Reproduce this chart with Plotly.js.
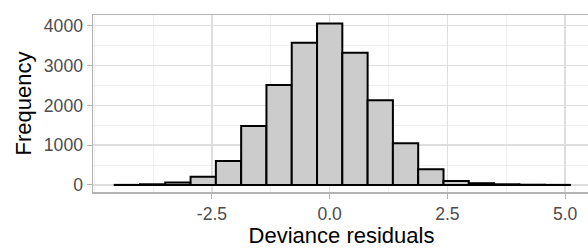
<!DOCTYPE html>
<html>
<head>
<meta charset="utf-8">
<script src="https://cdn.plot.ly/plotly-3.0.1.min.js"></script>
<style>
html, body { margin: 0; padding: 0; overflow: hidden; background: #fff; }
#chart { width: 590px; height: 248px; }
</style>
</head>
<body>
<div id="chart"></div>
<script>
// Histogram bin centres (deviance residuals) and counts
const binCenters = [-4.296, -3.759, -3.222, -2.685, -2.148, -1.611, -1.074, -0.537, 0.0,
                    0.537, 1.074, 1.611, 2.148, 2.685, 3.222, 3.759, 4.296, 4.833];
const counts = [3, 18, 65, 210, 600, 1480, 2510, 3575, 4060,
                3325, 2130, 1050, 395, 100, 45, 18, 7, 3];
const binWidth = 0.537;
const xTickVals = [-2.5, 0, 2.5, 5];
const xTickText = ['-2.5', '0.0', '2.5', '5.0'];
const xMinorVals = [-5, -3.75, -1.25, 1.25, 3.75];
const yTickVals = [0, 1000, 2000, 3000, 4000];
const yTickText = ['0', '1000', '2000', '3000', '4000'];
const yMinorVals = [500, 1500, 2500, 3500];

const FONT = 'Liberation Sans, Arial, sans-serif';

const trace = {
  type: 'bar',
  x: binCenters,
  y: counts,
  width: binCenters.map(() => binWidth),
  marker: { color: '#CCCCCC', line: { color: '#000000', width: 2 } },
  hoverinfo: 'skip'
};

const layout = {
  width: 590,
  height: 248,
  margin: { l: 93, r: 0, t: 15, b: 56, pad: 0 },
  paper_bgcolor: '#ffffff',
  plot_bgcolor: '#ffffff',
  showlegend: false,
  bargap: 0,
  font: { family: FONT, color: '#4D4D4D' },
  xaxis: {
    range: [-5.025, 5.527],
    tickmode: 'array',
    tickvals: xTickVals,
    ticktext: xTickText,
    ticks: 'outside',
    ticklen: 5,
    tickwidth: 1,
    tickcolor: '#B3B3B3',
    tickfont: { size: 17.6, color: '#4D4D4D', family: FONT },
    showgrid: true,
    gridcolor: '#DEDEDE',
    gridwidth: 1.4,
    minor: { tickmode: 'array', tickvals: xMinorVals, showgrid: true, gridcolor: '#EBEBEB', gridwidth: 0.8, ticks: '' },
    zeroline: false,
    showline: true,
    linecolor: '#B3B3B3',
    linewidth: 1.5,
    mirror: true,
    title: { text: 'Deviance residuals', font: { size: 22, color: '#000000', family: FONT }, standoff: 4 }
  },
  yaxis: {
    range: [-176, 4271],
    tickmode: 'array',
    tickvals: yTickVals,
    ticktext: yTickText,
    ticks: 'outside',
    ticklen: 5,
    tickwidth: 1,
    tickcolor: '#B3B3B3',
    tickfont: { size: 17.6, color: '#4D4D4D', family: FONT },
    showgrid: true,
    gridcolor: '#DEDEDE',
    gridwidth: 1.4,
    minor: { tickmode: 'array', tickvals: yMinorVals, showgrid: true, gridcolor: '#EBEBEB', gridwidth: 0.8, ticks: '' },
    zeroline: false,
    showline: true,
    linecolor: '#B3B3B3',
    linewidth: 1.5,
    mirror: true,
    title: { text: 'Frequency', font: { size: 22, color: '#000000', family: FONT }, standoff: 6 }
  }
};

Plotly.newPlot('chart', [trace], layout, { staticPlot: true, displayModeBar: false });
</script>
</body>
</html>
